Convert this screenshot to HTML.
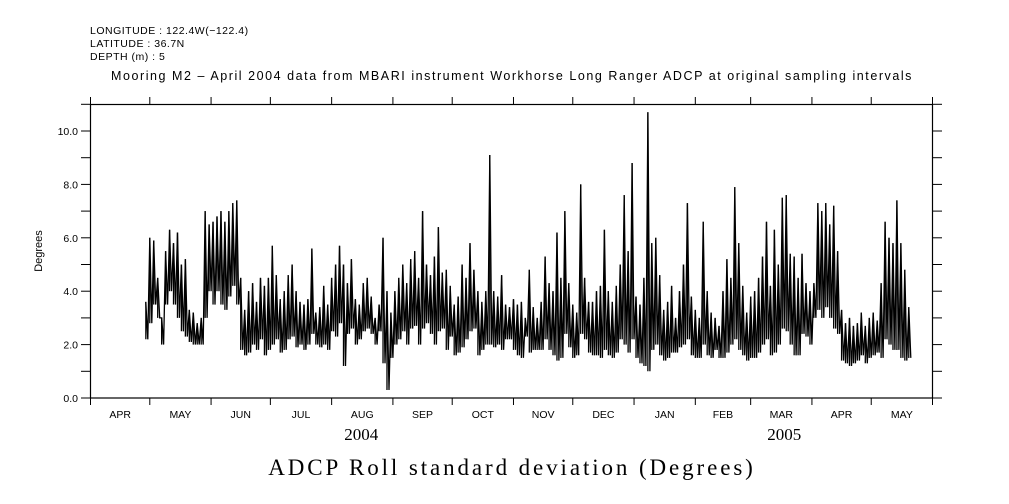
<!DOCTYPE html>
<html><head><meta charset="utf-8"><style>
body{margin:0;background:#fff;width:1009px;height:504px;overflow:hidden}
svg{display:block}
text{font-family:"Liberation Sans",sans-serif;fill:#000}
</style></head><body>
<svg id="chart" width="1009" height="504">
<g style="letter-spacing:0.5px">
<text x="90" y="34" font-size="10.5">LONGITUDE : 122.4W(−122.4)</text>
<text x="90" y="47" font-size="10.5">LATITUDE : 36.7N</text>
<text x="90" y="60" font-size="10.5">DEPTH (m) : 5</text>
</g>
<text x="512" y="80" font-size="12.5" text-anchor="middle" style="letter-spacing:1.55px">Mooring M2 – April 2004 data from MBARI instrument Workhorse Long Ranger ADCP at original sampling intervals</text>
<text x="42" y="251" font-size="11" text-anchor="middle" transform="rotate(-90 42 251)">Degrees</text>
<text x="512" y="475" font-size="23" text-anchor="middle" style="font-family:'Liberation Serif',serif;letter-spacing:2.9px">ADCP Roll standard deviation (Degrees)</text>
<rect x="90.5" y="104.5" width="842" height="293.5" fill="none" stroke="#000" stroke-width="1.2"/>
<g id="axes"></g>
<g id="series"></g>
</svg>
<script>
const yTicks=[0,1,2,3,4,5,6,7,8,9,10,11];
const yLabels=["0.0","","2.0","","4.0","","6.0","","8.0","","10.0",""];
const monthLabels=["APR","MAY","JUN","JUL","AUG","SEP","OCT","NOV","DEC","JAN","FEB","MAR","APR","MAY"];
const monthStartDays=[0,30,61,91,122,153,183,214,244,275,306,334,365,395,426];
const yearLabels=["2004","2005"];
const yearCenterDays=[137,351];
const startDay=28;
const binDays=2;
const hi=[3.6,6.0,5.9,4.5,3.0,5.5,6.3,5.8,6.2,5.0,
5.2,3.3,3.2,2.8,3.0,7.0,6.5,6.6,6.8,7.0,
6.6,7.0,7.3,7.4,4.5,3.3,4.0,4.3,3.6,4.5,
4.2,4.5,5.7,4.6,3.7,4.0,4.6,5.0,4.0,3.6,
3.5,3.7,5.6,3.2,3.4,4.2,3.5,4.5,5.0,5.7,
5.0,4.3,5.2,3.7,3.5,4.3,4.5,3.8,3.0,3.5,
6.0,4.0,3.2,4.0,4.5,5.0,4.3,5.2,5.5,4.5,
7.0,5.0,4.6,5.3,6.4,4.7,4.8,4.2,3.5,3.8,
5.0,4.5,5.8,4.8,4.0,3.6,4.0,9.1,4.0,3.8,
4.6,3.5,3.4,3.7,3.5,3.6,3.0,4.8,3.4,3.0,
3.6,5.3,4.3,4.0,6.2,4.5,7.0,4.3,3.5,3.2,
8.0,4.5,3.6,3.6,4.0,4.2,6.3,4.0,3.6,4.2,
5.0,7.6,5.5,8.8,3.8,3.5,4.5,10.7,5.8,6.0,
4.6,3.3,3.6,4.2,3.0,4.0,5.0,7.3,3.8,3.3,
3.0,6.6,4.0,3.2,3.0,2.7,4.0,5.2,4.5,7.9,
5.8,4.2,3.2,3.8,4.0,4.5,5.3,6.6,4.2,6.3,
5.0,7.5,7.6,5.4,5.3,4.5,5.4,4.3,4.0,4.3,
7.3,7.0,7.3,6.5,7.2,5.5,3.3,2.8,3.0,2.7,
2.8,3.2,2.7,3.0,3.2,2.9,4.3,6.6,6.0,5.8,
7.4,5.8,4.8,3.4];
const lo=[2.2,2.8,3.5,3.0,2.0,3.5,4.0,3.5,3.0,2.5,
2.3,2.1,2.0,2.0,2.0,3.0,4.0,3.5,4.0,3.5,
3.3,3.8,4.2,3.5,1.8,1.6,1.7,2.0,1.8,2.2,
1.6,1.8,2.0,2.2,1.7,1.8,2.2,2.3,1.9,2.0,
1.8,2.0,2.4,2.0,1.9,2.0,1.8,2.5,2.3,2.8,
1.2,2.4,2.6,2.0,2.2,2.5,2.6,2.4,2.0,2.5,
1.3,0.3,1.5,2.0,2.2,2.5,2.0,2.6,2.7,2.0,
2.6,2.8,2.4,2.0,2.5,2.6,1.8,2.3,1.6,1.7,
1.9,2.2,2.5,2.6,1.6,1.8,2.0,2.0,1.9,2.0,
1.8,2.2,2.2,1.8,1.6,1.5,2.3,1.7,1.8,1.8,
1.8,2.2,1.8,1.6,1.4,1.5,2.4,1.9,1.5,1.6,
2.4,2.2,1.7,1.6,1.6,1.5,1.8,1.6,1.5,1.7,
2.2,2.0,1.7,2.2,1.5,1.3,1.2,1.0,1.8,2.0,
1.6,1.4,1.5,1.7,1.7,1.9,2.0,2.2,1.6,1.5,
1.5,2.0,1.6,1.5,1.8,1.5,1.5,1.7,2.0,2.2,
1.8,1.6,1.4,1.5,1.5,1.7,2.0,2.2,1.6,1.7,
2.0,2.6,2.5,2.0,1.6,1.6,2.4,2.3,2.0,3.0,
3.3,3.0,3.4,3.0,2.6,2.4,1.4,1.3,1.2,1.3,
1.4,1.6,1.3,1.5,1.6,1.7,1.5,2.2,2.0,1.8,
1.8,1.5,1.4,1.5];

const X0=90.5,X1=932.5,Y0=398,Y1=104,DAYS=426,YMAX=11;
const xs=d=>X0+(X1-X0)*d/DAYS;
const ys=v=>Y0-(Y0-131)*v/10;
const NS="http://www.w3.org/2000/svg";
const axes=document.getElementById('axes');
function mk(tag,attrs,parent){const e=document.createElementNS(NS,tag);for(const k in attrs)e.setAttribute(k,attrs[k]);parent.appendChild(e);return e;}
yTicks.forEach((t,i)=>{
  const y=ys(t);
  const l=mk('line',{x1:81,x2:90.5,y1:y,y2:y,stroke:'#000'},axes);
  
  
  const r=mk('line',{x1:932.5,x2:942,y1:y,y2:y,stroke:'#000'},axes);
  
  
  if(yLabels[i]){
    const tx=mk('text',{x:78,y:y+4,'font-size':'10.5','text-anchor':'end'},axes);
    tx.textContent=yLabels[i];
    
    
  }
});
monthStartDays.forEach((d,i)=>{
  const x=xs(d);
  const b=mk('line',{x1:x,x2:x,y1:398,y2:405,stroke:'#000'},axes);
  
  
  const t=mk('line',{x1:x,x2:x,y1:97,y2:104.5,stroke:'#000'},axes);
  
  
  if(i<monthLabels.length){
    const tx=mk('text',{x:(xs(d)+xs(monthStartDays[i+1]))/2,y:418,'font-size':'10.5','text-anchor':'middle'},axes);
    tx.textContent=monthLabels[i];
    
    
  }
});
yearLabels.forEach((yl,i)=>{
  const tx=mk('text',{x:xs(yearCenterDays[i]),y:440,'font-size':'17','text-anchor':'middle'},axes);
  tx.style.fontFamily="'Liberation Serif',serif";
  tx.textContent=yl;
  
  
});
const ser=document.getElementById('series');
let pts=[];
hi.forEach((h,i)=>{
  const d=startDay+i*binDays;
  pts.push(xs(d).toFixed(1)+','+ys(h).toFixed(1));
  pts.push(xs(d+binDays/2).toFixed(1)+','+ys(lo[i]).toFixed(1));
  const v=mk('line',{x1:xs(d),x2:xs(d),y1:ys(h),y2:ys(lo[i]),stroke:'#000','stroke-width':'1.3'},ser);
  
  
});
const pl=mk('polyline',{points:pts.join(' '),fill:'none',stroke:'#000','stroke-width':'1.3'},ser);


</script>
</body></html>
